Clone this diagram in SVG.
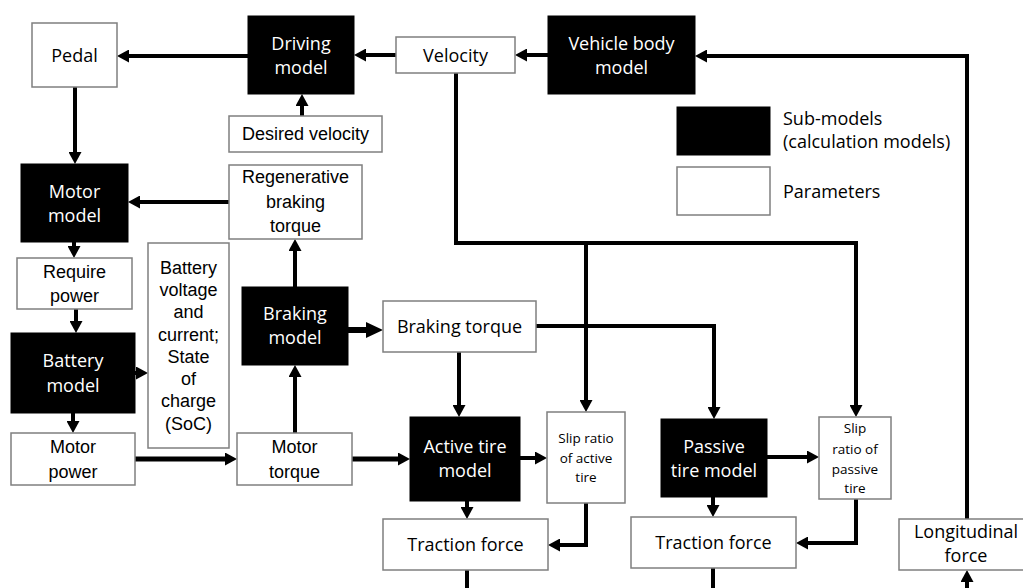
<svg xmlns="http://www.w3.org/2000/svg" width="1023" height="588" viewBox="0 0 1023 588">
<style>
.p{fill:#fff;stroke:#7f7f7f;stroke-width:1.5}
.m{fill:#000;stroke:#000;stroke-width:1}
.c{font-family:"Open Sans","Liberation Sans",sans-serif;font-size:18px;text-anchor:middle;fill:#000}
.a{font-family:"Liberation Sans",Arial,sans-serif;font-size:18px;text-anchor:middle;fill:#000}
.w{fill:#fff}
.s{font-size:13.5px}
.l{font-family:"Open Sans","Liberation Sans",sans-serif;font-size:18px;fill:#000}
.e{fill:none;stroke:#000;stroke-width:4;marker-end:url(#ah)}
.n{fill:none;stroke:#000;stroke-width:4}
</style>
<defs>
<marker id="ah" markerUnits="userSpaceOnUse" markerWidth="12" markerHeight="13" viewBox="0 0 12 13" refX="4" refY="6.5" orient="auto"><path d="M0,0 L12,6.5 L0,13 z" fill="#000"/></marker>
<marker id="ab" markerUnits="userSpaceOnUse" markerWidth="17" markerHeight="16" viewBox="0 0 17 16" refX="5" refY="8" orient="auto"><path d="M0,0 L17,8 L0,16 z" fill="#000"/></marker>
</defs>
<rect width="1023" height="588" fill="#fff"/>
<g id="connectors">
<path class="e" d="M248,56 H125"/>
<path class="e" d="M396,55 H362"/>
<path class="e" d="M548,55 H523"/>
<path class="e" d="M967,519 V56 H703"/>
<path class="e" d="M302,116 V102"/>
<path class="e" d="M75,87 V156"/>
<path class="e" d="M229,202 H136"/>
<path class="e" d="M74,242 V250"/>
<path class="e" d="M76,309 V325"/>
<path class="e" d="M135,373 H140"/>
<path class="e" d="M73,413 V425"/>
<path class="e" style="stroke-width:5" d="M135,459 H229"/>
<path class="e" d="M295,433 V373"/>
<path class="e" d="M295,287 V247"/>
<path class="e" style="stroke-width:6;marker-end:url(#ab)" d="M348,330 H371"/>
<path class="e" style="stroke-width:5" d="M352,459 H402"/>
<path class="e" d="M459,352 V409"/>
<path class="e" d="M536,326 H714 V411"/>
<path class="e" d="M456,73 V243 H856 V409"/>
<path class="e" d="M586,243 V404"/>
<path class="e" d="M520,458 H539"/>
<path class="e" d="M467,501 V511"/>
<path class="e" d="M586,503 V545 H556"/>
<path class="n" d="M467,570 V590"/>
<path class="e" d="M767,457 H811"/>
<path class="e" d="M713,497 V509"/>
<path class="e" d="M856,499 V543 H804"/>
<path class="n" d="M713,568 V590"/>
<path class="e" d="M967,592 V578"/>
</g>
<g id="pedal"><rect class="p" x="32" y="23" width="85" height="64"/><text class="c" x="74.5" y="62">Pedal</text></g>
<g id="driving-model"><rect class="m" x="248" y="16" width="106" height="78"/><text class="c w" x="301" y="50">Driving</text><text class="c w" x="301" y="74">model</text></g>
<g id="velocity"><rect class="p" x="396" y="37" width="119" height="36"/><text class="c" x="455.5" y="62">Velocity</text></g>
<g id="vehicle-body-model"><rect class="m" x="548" y="16" width="147" height="78"/><text class="c w" x="621.5" y="50">Vehicle body</text><text class="c w" x="621.5" y="74">model</text></g>
<g id="desired-velocity"><rect class="p" x="229" y="116" width="153" height="36"/><text class="a" x="305.5" y="140">Desired velocity</text></g>
<g id="legend">
<rect class="m" x="677" y="107" width="93" height="48"/>
<text class="l" x="783" y="125">Sub-models</text>
<text class="l" x="783" y="148">(calculation models)</text>
<rect class="p" x="677" y="167" width="93" height="48"/>
<text class="l" x="783" y="198">Parameters</text>
</g>
<g id="motor-model"><rect class="m" x="21" y="164" width="107" height="78"/><text class="c w" x="74.5" y="198">Motor</text><text class="c w" x="74.5" y="222">model</text></g>
<g id="regenerative-braking-torque"><rect class="p" x="229" y="165" width="133" height="74"/><text class="a" x="295.5" y="183">Regenerative</text><text class="a" x="295.5" y="208">braking</text><text class="a" x="295.5" y="232">torque</text></g>
<g id="require-power"><rect class="p" x="17" y="258" width="115" height="51"/><text class="a" x="74.5" y="278">Require</text><text class="a" x="74.5" y="302">power</text></g>
<g id="battery-state"><rect class="p" x="148" y="243" width="81" height="205"/>
<text class="a" x="188.5" y="274">Battery</text><text class="a" x="188.5" y="296">voltage</text><text class="a" x="188.5" y="318">and</text><text class="a" x="188.5" y="341">current;</text><text class="a" x="188.5" y="363">State</text><text class="a" x="188.5" y="385">of</text><text class="a" x="188.5" y="407">charge</text><text class="a" x="188.5" y="430">(SoC)</text></g>
<g id="battery-model"><rect class="m" x="11" y="333" width="124" height="80"/><text class="c w" x="73" y="367">Battery</text><text class="c w" x="73" y="392">model</text></g>
<g id="braking-model"><rect class="m" x="242" y="287" width="106" height="78"/><text class="c w" x="295" y="320">Braking</text><text class="c w" x="295" y="344">model</text></g>
<g id="braking-torque"><rect class="p" x="383" y="301" width="153" height="51"/><text class="c" x="459.5" y="333">Braking torque</text></g>
<g id="motor-power"><rect class="p" x="11" y="433" width="124" height="52"/><text class="a" x="73" y="453">Motor</text><text class="a" x="73" y="478">power</text></g>
<g id="motor-torque"><rect class="p" x="237" y="433" width="115" height="52"/><text class="a" x="294.5" y="453">Motor</text><text class="a" x="294.5" y="478">torque</text></g>
<g id="active-tire-model"><rect class="m" x="410" y="417" width="110" height="84"/><text class="c w" x="465" y="453">Active tire</text><text class="c w" x="465" y="477">model</text></g>
<g id="slip-active"><rect class="p" x="547" y="412" width="78" height="91"/><text class="c s" x="586" y="443">Slip ratio</text><text class="c s" x="586" y="463">of active</text><text class="c s" x="586" y="482">tire</text></g>
<g id="passive-tire-model"><rect class="m" x="661" y="419" width="106" height="78"/><text class="c w" x="714" y="453">Passive</text><text class="c w" x="714" y="477">tire model</text></g>
<g id="slip-passive"><rect class="p" x="819" y="417" width="72" height="82"/><text class="c s" x="855" y="433">Slip</text><text class="c s" x="855" y="454">ratio of</text><text class="c s" x="855" y="474">passive</text><text class="c s" x="855" y="493">tire</text></g>
<g id="traction-active"><rect class="p" x="383" y="519" width="165" height="51"/><text class="c" x="465.5" y="551">Traction force</text></g>
<g id="traction-passive"><rect class="p" x="631" y="517" width="165" height="51"/><text class="c" x="713.5" y="549">Traction force</text></g>
<g id="longitudinal-force"><rect class="p" x="899" y="519" width="130" height="51"/><text class="c" x="966" y="538">Longitudinal</text><text class="c" x="966" y="562">force</text></g>
</svg>
